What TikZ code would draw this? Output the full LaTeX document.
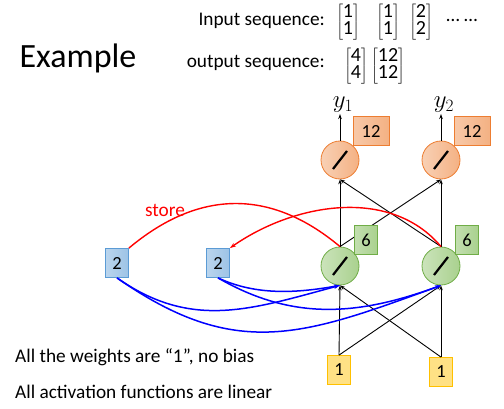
\documentclass[tikz,border=0pt]{standalone}
\usepackage{fontspec}
\setmainfont{Carlito}
\usepackage{tikz}
\usetikzlibrary{calc}
\usetikzlibrary{math}
\usetikzlibrary{arrows.meta}
\definecolor{orangeb}{HTML}{ED7D31}
\definecolor{orangef}{HTML}{F4B183}
\definecolor{vertb}{HTML}{70AD47}
\definecolor{vertf}{HTML}{A9D18E}
\definecolor{bleub}{HTML}{5B9BD5}
\definecolor{bleuf}{HTML}{9DC3E6}
\definecolor{jauneb}{HTML}{FFC000}
\definecolor{jaunef}{HTML}{FFD966}
\newcommand{\colvec}[2]{\fontsize{20}{18}\selectfont$\left[\renewcommand{\arraystretch}{0.85}\begin{tabular}{@{}c@{}}#1\\#2\end{tabular}\right]$}
\tikzset{
  texte/.style={font=\fontsize{19.3}{21}\selectfont, inner sep=0pt},
  neurone/.style={circle, minimum size=2*\rayon pt, inner sep=0pt, line width=0.8pt,
    path picture={\draw[black, line width=2.2pt] ($(path picture bounding box.center)+(-7,-9)$) -- ($(path picture bounding box.center)+(7,9)$);}},
  boite/.style={minimum width=23pt, minimum height=29pt, inner sep=0pt, line width=0.8pt, font=\fontsize{18.5}{20}\selectfont},
  fleche/.style={-{Stealth[length=5pt,width=3.5pt]}, line width=0.9pt},
  rappel/.style={blue, line width=1.5pt, -{Stealth[length=6pt,width=4pt]}},
  stockage/.style={red, line width=1.4pt},
}
\begin{document}
\begin{tikzpicture}[x=1pt,y=1pt]
            \tikzmath{\rayon = 19;}
                \useasboundingbox (0,0) rectangle (504,408);
                % en-tete
                \node[font=\fontsize{34}{36}\selectfont, inner sep=0pt] (titre) at (78,350) {Example};
                \node[texte, anchor=east] (entree) at (325,387) {Input sequence:};
                \node[inner sep=0pt] (x1) at (348,386) {\colvec{1}{1}};
                \node[inner sep=0pt] (x2) at (388,386) {\colvec{1}{1}};
                \node[inner sep=0pt] (x3) at (421,386) {\colvec{2}{2}};
                \node[texte] (points) at (462,388) {\dots\ \dots};
                \node[texte, anchor=east] (sortie) at (325,345) {output sequence:};
                \node[inner sep=0pt] (s1) at (356,342) {\colvec{4}{4}};
                \node[inner sep=0pt] (s2) at (388,342) {\colvec{12}{12}};
                % reseau
                \node[neurone, draw=orangeb, left color=orangef!60, right color=orangef] (o1) at (340,248) {};
                \node[neurone, draw=orangeb, left color=orangef!60, right color=orangef] (o2) at (441,248) {};
                \node[neurone, draw=vertb, left color=vertf!60, right color=vertf] (g1) at (340,142) {};
                \node[neurone, draw=vertb, left color=vertf!60, right color=vertf] (g2) at (441,142) {};
                \node[boite, draw=bleub, left color=bleuf!70, right color=bleuf] (m1) at (117,145) {2};
                \node[boite, draw=bleub, left color=bleuf!70, right color=bleuf] (m2) at (218,145) {2};
                \node[boite, draw=jauneb, fill=jaunef!80] (e1) at (339,38) {1};
                \node[boite, draw=jauneb, fill=jaunef!80] (e2) at (441,36) {1};
                \node[font=\fontsize{23}{25}\selectfont, inner sep=1pt] (y1) at (343,303) {$y_1$};
                \node[font=\fontsize{23}{25}\selectfont, inner sep=1pt] (y2) at (444,303) {$y_2$};
                \draw[fleche] (o1.north) -- (o1.north |- y1.south);
                \draw[fleche] (o2.north) -- (o2.north |- y2.south);
                \foreach \a in {e1,e2}
                    \foreach \b in {g1,g2}
                        \draw[fleche] (\a.north) -- (\b.south);
                \foreach \a in {g1,g2}
                    \foreach \b in {o1,o2}
                        \draw[fleche] (\a.north) -- (\b.south);
                \draw[rappel] (m1.south) to[out=-35, in=195, looseness=1.05] (g1.south);
                \draw[rappel] (m1.south) to[out=-35, in=200, looseness=1.15] (g2.south);
                \draw[rappel] (m2.south) to[out=-25, in=190, looseness=0.9] (g1.south);
                \draw[rappel] (m2.south) to[out=-30, in=200] (g2.south);
                \draw[stockage] (m1.north east) to[out=40, in=140, looseness=1.1] (g1.north);
                \draw[stockage, -{Stealth[length=6pt,width=4pt]}] (g2.north) to[out=130, in=35, looseness=0.95] (m2.north east);
                \node[texte, red] (store) at (165,198) {store};
                \node[boite, minimum width=36pt, draw=orangeb, left color=orangef!70, right color=orangef] (d1) at (371,277) {12};
                \node[boite, minimum width=36pt, draw=orangeb, left color=orangef!70, right color=orangef] (d2) at (472,277) {12};
                \node[boite, draw=vertb, left color=vertf!70, right color=vertf] (v1) at (366,168) {6};
                \node[boite, draw=vertb, left color=vertf!70, right color=vertf] (v2) at (467,168) {6};
                % notes
                \node[texte, anchor=west] (poids) at (15,51) {All the weights are “1”, no bias};
                \node[texte, anchor=west] (activ) at (15,16) {All activation functions are linear};
            \end{tikzpicture}
\end{document}
